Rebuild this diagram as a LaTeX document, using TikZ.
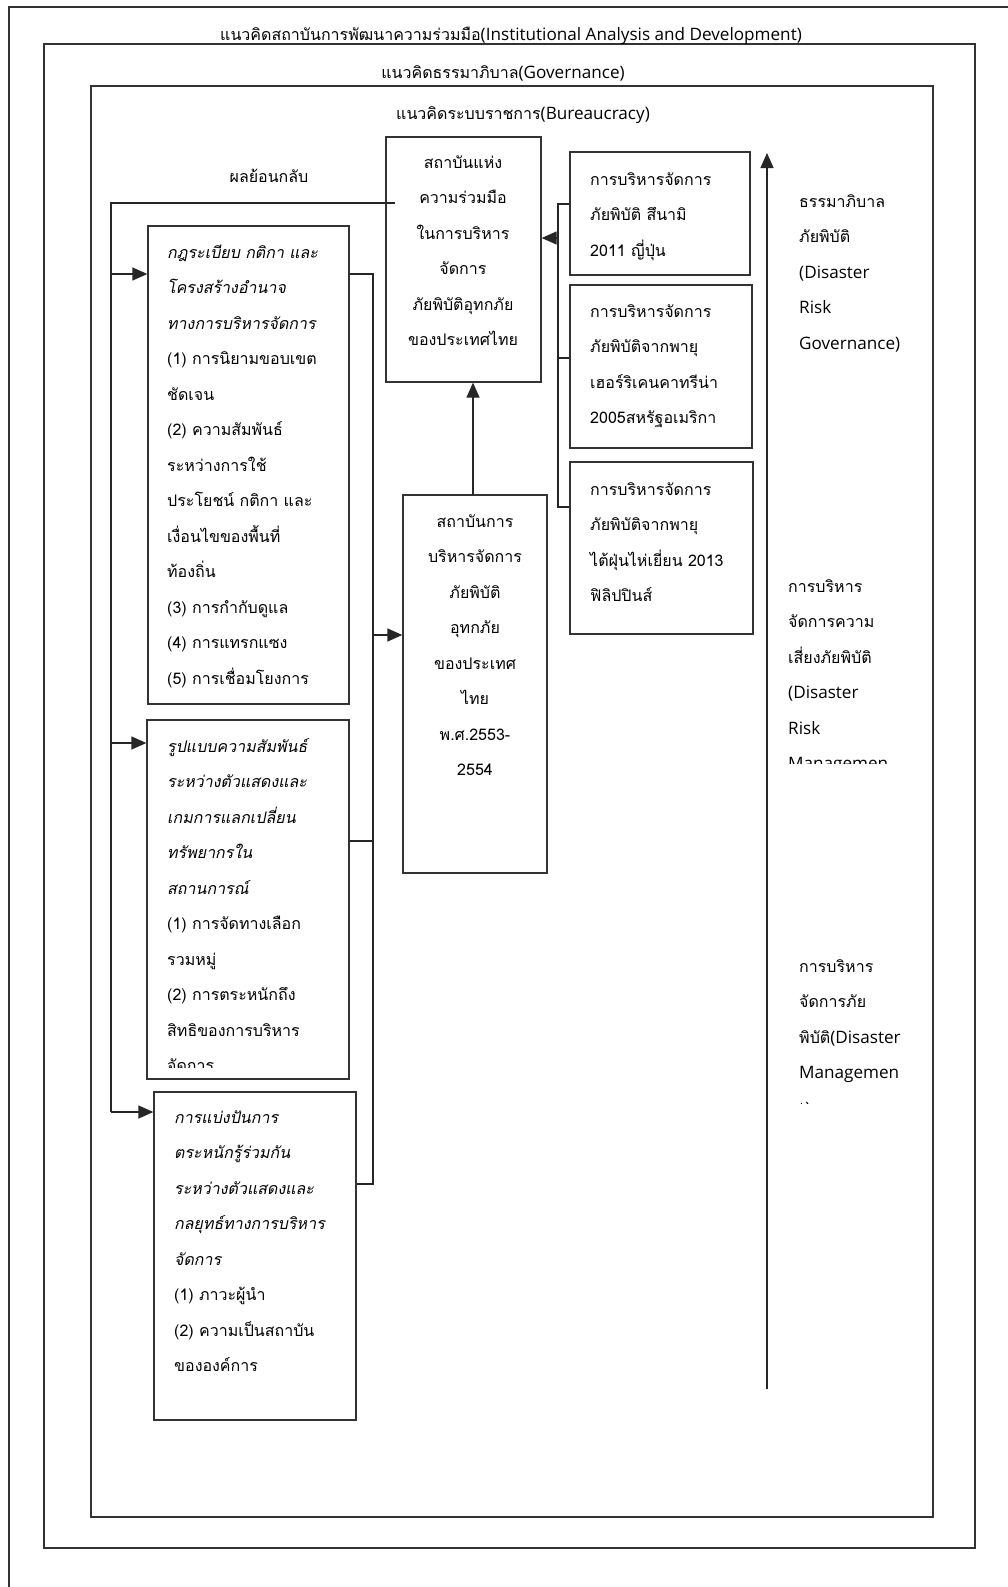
\documentclass[tikz,border=0pt]{standalone}
\usepackage{fontspec}
\newfontfamily\thaifont[Script=Thai]{Loma}
\newfontfamily\thaiitfont[Script=Thai,FakeSlant=0.2]{Loma}
\newfontfamily\latfont[Scale=1.07]{Open Sans}
\newcommand\lat[1]{{\latfont #1}}
\newcommand\tfont{\thaifont\fontsize{16}{35.5}\selectfont}
\usetikzlibrary{arrows.meta,fit}

\begin{document}
\begin{tikzpicture}[x=1pt,y=-1pt,
  frame/.style={draw=black!80,line width=1.3pt},
  box/.style={draw=black!80,line width=1.3pt,inner sep=0pt},
  wire/.style={draw=black!85,line width=1.3pt},
  arr/.style={wire,-{Triangle[length=15pt,width=13pt]}},
  txt/.style={inner sep=0pt,align=left,text width=230pt,anchor=base west,font=\tfont},
  ctxt/.style={inner sep=0pt,align=center,text width=180pt,anchor=base,font=\tfont},
  ttl/.style={inner sep=0pt,anchor=base,font=\tfont}]
\useasboundingbox (0,0) rectangle (1008,1587);

% nested concept frames
\draw[frame] (9,1587) -- (9,7) -- (1008,7);
\node[box, fit={(44,44) (975,1548)}] (gov) {};
\node[box, fit={(91,86) (933,1517)}] (bur) {};
\node[ttl] (t1) at (511,41) {แนวคิดสถาบันการพัฒนาความร่วมมือ\lat{(Institutional Analysis and Development)}};
\node[ttl] (t2) at (503,78) {แนวคิดธรรมาภิบาล\lat{(Governance)}};
\node[ttl] (t3) at (523,119) {แนวคิดระบบราชการ\lat{(Bureaucracy)}};

% boxes
\node[box, fit={(386,137) (541,382)}] (A) {};
\node[box, fit={(570,152) (750,275)}] (B) {};
\node[box, fit={(570,285) (752,448)}] (C) {};
\node[box, fit={(570,462) (753,634)}] (D) {};
\node[box, fit={(403,495) (547,873)}] (E) {};
\node[box, fit={(148,226) (349,704)}] (F) {};
\node[box, fit={(147,720) (349,1079)}] (G) {};
\node[box, fit={(154,1092) (356,1420)}] (H) {};

% box texts
\node[ctxt] (Atx) at (463,168) {สถาบันแห่ง\\ความร่วมมือ\\ในการบริหาร\\จัดการ\\ภัยพิบัติอุทกภัย\\ของประเทศไทย};
\node[txt] (Btx) at (590,185) {การบริหารจัดการ\\ภัยพิบัติ สึนามิ\\2011 ญี่ปุ่น};
\node[txt] (Ctx) at (590,317) {การบริหารจัดการ\\ภัยพิบัติจากพายุ\\เฮอร์ริเคนคาทรีน่า\\2005สหรัฐอเมริกา};
\node[txt] (Dtx) at (590,495) {การบริหารจัดการ\\ภัยพิบัติจากพายุ\\ไต้ฝุ่นไห่เยี่ยน 2013\\ฟิลิปปินส์};
\node[ctxt] (Etx) at (475,527) {สถาบันการ\\บริหารจัดการ\\ภัยพิบัติ\\อุทกภัย\\ของประเทศ\\ไทย\\พ.ศ.2553-\\2554};
\node[txt] (Ftx) at (167,258) {{\thaiitfont กฎระเบียบ กติกา และ}\\{\thaiitfont โครงสร้างอำนาจ}\\{\thaiitfont ทางการบริหารจัดการ}\\(1) การนิยามขอบเขต\\ชัดเจน\\(2) ความสัมพันธ์\\ระหว่างการใช้\\ประโยชน์ กติกา และ\\เงื่อนไขของพื้นที่\\ท้องถิ่น\\(3) การกำกับดูแล\\(4) การแทรกแซง\\(5) การเชื่อมโยงการ};
\begin{scope}
  \clip (150,722) rectangle (347,1067);
  \node[txt] (Gtx) at (167,752) {{\thaiitfont รูปแบบความสัมพันธ์}\\{\thaiitfont ระหว่างตัวแสดงและ}\\{\thaiitfont เกมการแลกเปลี่ยน}\\{\thaiitfont ทรัพยากรใน}\\{\thaiitfont สถานการณ์}\\(1) การจัดทางเลือก\\รวมหมู่\\(2) การตระหนักถึง\\สิทธิของการบริหาร\\จัดการ};
\end{scope}
\node[txt] (Htx) at (174,1123) {{\thaiitfont การแบ่งปันการ}\\{\thaiitfont ตระหนักรู้ร่วมกัน}\\{\thaiitfont ระหว่างตัวแสดงและ}\\{\thaiitfont กลยุทธ์ทางการบริหาร}\\{\thaiitfont จัดการ}\\(1) ภาวะผู้นำ\\(2) ความเป็นสถาบัน\\ขององค์การ};

% labels on the right
\node[txt] (R1) at (799,207) {ธรรมาภิบาล\\ภัยพิบัติ\\\lat{(Disaster}\\\lat{Risk}\\\lat{Governance)}};
\begin{scope}
  \clip (780,560) rectangle (930,763);
  \node[txt] (R2) at (788,592) {การบริหาร\\จัดการความ\\เสี่ยงภัยพิบัติ\\\lat{(Disaster}\\\lat{Risk}\\\lat{Managemen}};
\end{scope}
\begin{scope}
  \clip (780,940) rectangle (930,1103);
  \node[txt] (R3) at (799,972) {การบริหาร\\จัดการภัย\\พิบัติ\lat{(Disaster}\\\lat{Managemen}\\\lat{t)}};
\end{scope}

% feedback loop
\node[ttl] (fb) at (269,182) {ผลย้อนกลับ};
\coordinate (fbS) at (395,203);
\coordinate (fbL) at (111,203);
\coordinate (fbF) at (111,274);
\coordinate (fbG) at (111,743);
\coordinate (fbH) at (111,1112);
\draw[wire] (fbS) -- (fbL) -- (fbH);
\draw[arr] (fbF) -- (fbF -| F.west);
\draw[arr] (fbG) -- (fbG -| G.west);
\draw[arr] (fbH) -- (fbH -| H.west);

% factors feeding the flood institution
\coordinate (rbF) at (373,274);
\coordinate (rbG) at (373,841);
\coordinate (rbH) at (373,1184);
\coordinate (rbE) at (373,635);
\draw[wire] (rbF -| F.east) -- (rbF) -- (rbH) -- (rbH -| H.east);
\draw[wire] (rbG -| G.east) -- (rbG);
\draw[arr] (rbE) -- (rbE -| E.west);

% flood institution to cooperation institution
\coordinate (eTop) at (473,495);
\draw[arr] (eTop) -- (eTop |- A.south);

% international cases
\coordinate (kB) at (558,204);
\coordinate (kC) at (558,358);
\coordinate (kD) at (558,507);
\coordinate (kA) at (558,238);
\draw[wire] (kB -| B.west) -- (kB) -- (kD) -- (kD -| D.west);
\draw[wire] (kC) -- (kC -| C.west);
\draw[arr] (kA) -- (kA -| A.east);

% governance scale arrow
\coordinate (bigB) at (767,1389);
\coordinate (bigT) at (767,153);
\draw[arr] (bigB) -- (bigT);
\end{tikzpicture}
\end{document}
